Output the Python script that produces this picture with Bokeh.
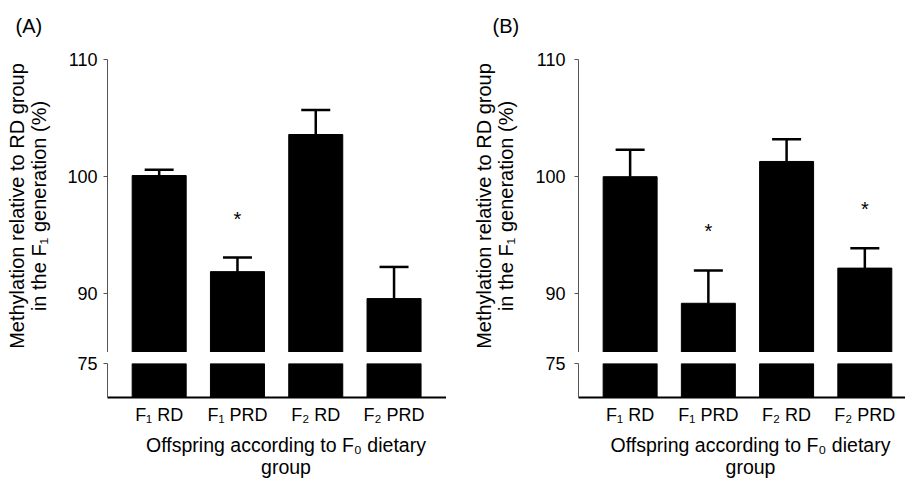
from bokeh.plotting import figure
from bokeh.layouts import row, column
from bokeh.models import Range1d, FixedTicker, Whisker, TeeHead, ColumnDataSource
from bokeh.core.properties import value
from bokeh.embed import file_html
from bokeh.resources import INLINE

# ---- data ----
categories = ["F\u2081 RD", "F\u2081 PRD", "F\u2082 RD", "F\u2082 PRD"]
a_mean = [100.1, 91.9, 103.6, 89.6]
a_err = [0.5, 1.2, 2.1, 2.7]
a_sig = [False, True, False, False]
b_mean = [100.0, 89.2, 101.3, 92.2]
b_err = [2.3, 2.8, 1.9, 1.7]
b_sig = [False, True, False, True]
upper_ticks = [90, 100, 110]
lower_ticks = [75]
break_value = 85
upper_max = 110
lower_min = 72.1
panel_tags = ["(A)", "(B)"]
ylabel = "Methylation relative to RD group\nin the F\u2081 generation (%)"
xlabel_lines = ["Offspring according to F\u2080 dietary", "group"]

FONT = "Liberation Sans"
TICK_FS = "18px"
TITLE_FS = "20px"
W, H = 905, 478
HEADER_H = 40
LOWER_BOTTOM = 33
FOOTER_H = H - (59 + 293 + 11 + 34 + LOWER_BOTTOM)


def style_common(p):
    p.toolbar_location = None
    p.outline_line_color = None
    p.xgrid.visible = False
    p.ygrid.visible = False
    p.background_fill_color = "white"
    p.border_fill_color = "white"


def style_yaxis(ax, label_standoff):
    ax.axis_line_color = "#555555"
    ax.major_tick_line_color = "#555555"
    ax.major_tick_out = 4
    ax.major_tick_in = 0
    ax.minor_tick_out = 0
    ax.minor_tick_in = 0
    ax.major_label_standoff = label_standoff
    ax.major_label_text_font = FONT
    ax.major_label_text_font_size = TICK_FS
    ax.major_label_text_color = "black"


def panel(mean, err, sig, left_border, frame_w, x_end, label_standoff, title_standoff):
    xs = list(range(len(categories)))
    tops = [m + e for m, e in zip(mean, err)]
    src = ColumnDataSource(dict(x=xs, top=mean, upper=tops, base=mean))

    # upper part of the broken axis
    pu = figure(frame_width=frame_w, frame_height=293, min_border_left=left_border,
                min_border_right=0, min_border_top=59 - HEADER_H, min_border_bottom=0,
                x_range=Range1d(-0.66, x_end), y_range=Range1d(break_value, upper_max),
                x_axis_location=None, output_backend="svg", toolbar_location=None)
    style_common(pu)
    pu.vbar(x="x", top="top", bottom=break_value, width=0.69, source=src,
            fill_color="black", line_color="black")
    pu.add_layout(Whisker(source=src, base="x", upper="upper", lower="base",
                          dimension="height", line_color="black", line_width=2.5,
                          upper_head=TeeHead(size=29, line_width=2.5, line_color="black"),
                          lower_head=None))
    sx = [x for x, s in zip(xs, sig) if s]
    sy = [t for t, s in zip(tops, sig) if s]
    pu.text(x=sx, y=sy, text=["*"] * len(sx), y_offset=-39,
            text_align="center", text_baseline="middle",
            text_font=value(FONT), text_font_size="20px", text_color="black")
    ya = pu.yaxis[0]
    ya.ticker = FixedTicker(ticks=[break_value] + upper_ticks)
    ya.major_label_overrides = {break_value: ""}
    ya.bounds = (break_value, upper_max)
    style_yaxis(ya, label_standoff)
    ya.axis_label = ylabel
    ya.axis_label_text_font = FONT
    ya.axis_label_text_font_size = TITLE_FS
    ya.axis_label_text_font_style = "normal"
    ya.axis_label_text_color = "black"
    ya.axis_label_text_line_height = 1.0
    ya.axis_label_standoff = title_standoff

    # lower part
    pl = figure(frame_width=frame_w, frame_height=34, min_border_left=left_border,
                min_border_right=0, min_border_top=11, min_border_bottom=LOWER_BOTTOM,
                x_range=Range1d(-0.66, x_end), y_range=Range1d(lower_min, lower_ticks[-1]),
                output_backend="svg", toolbar_location=None)
    style_common(pl)
    pl.vbar(x=xs, top=[lower_ticks[-1]] * len(xs), bottom=lower_min, width=0.69,
            fill_color="black", line_color="black")
    yl = pl.yaxis[0]
    yl.ticker = FixedTicker(ticks=lower_ticks)
    yl.bounds = (lower_min, lower_ticks[-1])
    style_yaxis(yl, label_standoff)
    xa = pl.xaxis[0]
    xa.ticker = FixedTicker(ticks=xs)
    xa.major_label_overrides = {i: c for i, c in zip(xs, categories)}
    xa.axis_line_color = "black"
    xa.axis_line_width = 2
    xa.major_tick_out = 0
    xa.major_tick_in = 0
    xa.minor_tick_out = 0
    xa.minor_tick_in = 0
    xa.major_label_standoff = 7
    xa.major_label_text_font = FONT
    xa.major_label_text_font_size = TICK_FS
    xa.major_label_text_color = "black"
    return column(pu, pl, spacing=0)


def strip(height):
    s = figure(width=W, height=height, x_range=Range1d(0, W), y_range=Range1d(height, 0),
               min_border=0, x_axis_location=None, y_axis_location=None,
               output_backend="svg", toolbar_location=None)
    style_common(s)
    return s


# frames: A from x=107 (339 px wide), B from x=578 (327 px wide)
colA = panel(a_mean, a_err, a_sig, 107, 339, 3.67, 6, 14)
colB = panel(b_mean, b_err, b_sig, 132, 327, 3.52, 9, 15)

header = strip(HEADER_H)
header.text(x=[15, 492], y=[25, 25], text=panel_tags, text_align="left",
            text_baseline="middle", text_font=value(FONT), text_font_size="20px",
            text_color="black")

footer = strip(FOOTER_H)
footer.text(x=[285.5, 285.5, 750, 750], y=[14.7, 36.2, 14.7, 36.2],
            text=xlabel_lines * 2, text_align="center", text_baseline="middle",
            text_font=value(FONT), text_font_size="19.5px", text_color="black")

layout = column(header, row(colA, colB, spacing=0), footer, spacing=0)

open("out.html", "w").write(file_html(layout, INLINE))
